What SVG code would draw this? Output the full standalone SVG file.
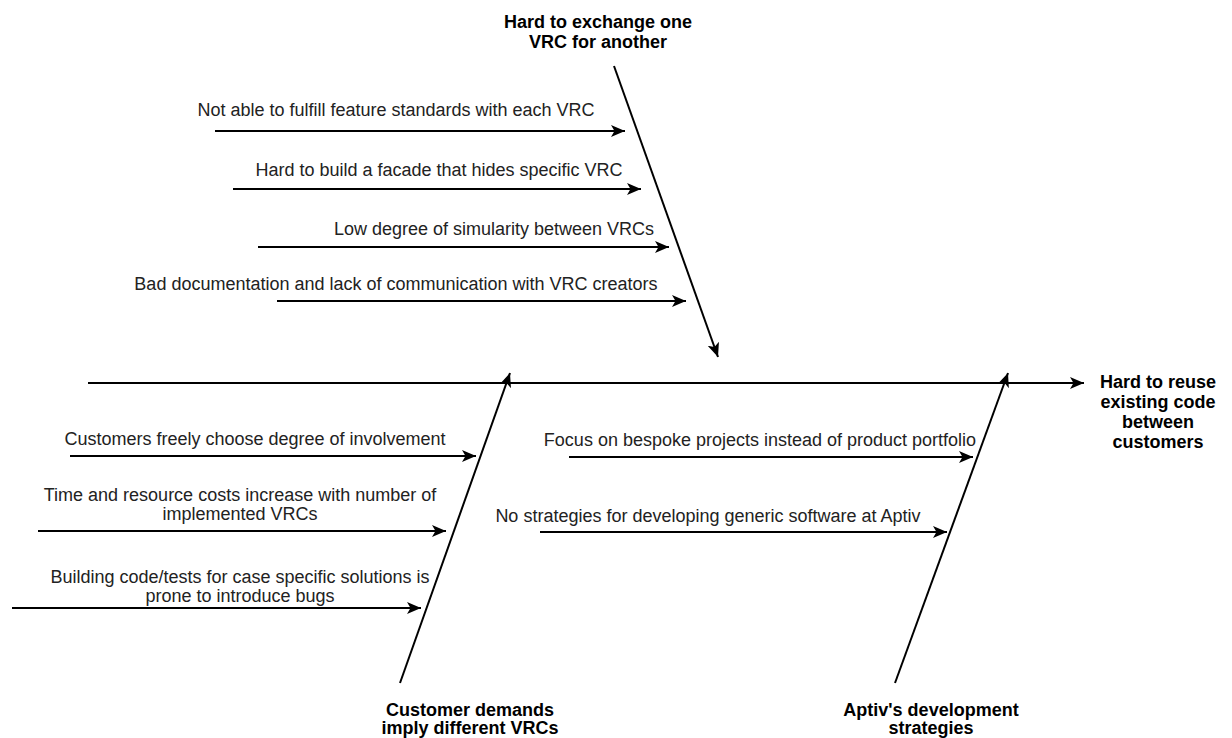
<svg xmlns="http://www.w3.org/2000/svg" width="1232" height="738" viewBox="0 0 1232 738">
<style>
  .t { font-family: "Liberation Sans", Arial, sans-serif; font-size: 18px; fill: #222; text-anchor: middle; }
  .b { font-family: "Liberation Sans", Arial, sans-serif; font-size: 18px; font-weight: bold; fill: #000; text-anchor: middle; }
  .ln { stroke: #000; stroke-width: 2; fill: none; marker-end: url(#arr); }
</style>
<defs>
  <marker id="arr" markerUnits="userSpaceOnUse" markerWidth="15" markerHeight="13" refX="14" refY="6.5" orient="auto">
    <path d="M0,0.5 L14,6.5 L0,12.5 L3.5,6.5 Z" fill="#000"/>
  </marker>
</defs>
<g id="connectors">
  <line class="ln" x1="88" y1="383" x2="1084" y2="383"/>
  <line class="ln" x1="614" y1="66" x2="718" y2="357"/>
  <line class="ln" x1="400" y1="683" x2="510" y2="373"/>
  <line class="ln" x1="895" y1="683" x2="1008" y2="373"/>
  <line class="ln" x1="215" y1="131" x2="625" y2="131"/>
  <line class="ln" x1="233" y1="189" x2="641" y2="189"/>
  <line class="ln" x1="258" y1="247" x2="669" y2="247"/>
  <line class="ln" x1="277" y1="301" x2="686" y2="301"/>
  <line class="ln" x1="70" y1="456" x2="476" y2="456"/>
  <line class="ln" x1="38" y1="531" x2="446" y2="531"/>
  <line class="ln" x1="12" y1="608" x2="421" y2="608"/>
  <line class="ln" x1="569" y1="457" x2="973" y2="457"/>
  <line class="ln" x1="540" y1="532" x2="947" y2="532"/>
</g>
<g id="effect">
  <text class="b" x="1158" y="388">Hard to reuse</text>
  <text class="b" x="1158" y="408">existing code</text>
  <text class="b" x="1158" y="428">between</text>
  <text class="b" x="1158" y="448">customers</text>
</g>
<g id="cat-exchange">
  <text class="b" x="598" y="28">Hard to exchange one</text>
  <text class="b" x="598" y="48">VRC for another</text>
</g>
<g id="cat-customer">
  <text class="b" x="470" y="716">Customer demands</text>
  <text class="b" x="470" y="734">imply different VRCs</text>
</g>
<g id="cat-aptiv">
  <text class="b" x="931" y="716">Aptiv's development</text>
  <text class="b" x="931" y="734">strategies</text>
</g>
<g id="cause-1"><text class="t" x="396" y="116">Not able to fulfill feature standards with each VRC</text></g>
<g id="cause-2"><text class="t" x="439" y="176">Hard to build a facade that hides specific VRC</text></g>
<g id="cause-3"><text class="t" x="494" y="235">Low degree of simularity between VRCs</text></g>
<g id="cause-4"><text class="t" x="396" y="290">Bad documentation and lack of communication with VRC creators</text></g>
<g id="cause-5"><text class="t" x="255" y="445">Customers freely choose degree of involvement</text></g>
<g id="cause-6">
  <text class="t" x="240" y="501">Time and resource costs increase with number of</text>
  <text class="t" x="240" y="520">implemented VRCs</text>
</g>
<g id="cause-7">
  <text class="t" x="240" y="583">Building code/tests for case specific solutions is</text>
  <text class="t" x="240" y="602">prone to introduce bugs</text>
</g>
<g id="cause-8"><text class="t" x="760" y="446">Focus on bespoke projects instead of product portfolio</text></g>
<g id="cause-9"><text class="t" x="708" y="522">No strategies for developing generic software at Aptiv</text></g>
</svg>
